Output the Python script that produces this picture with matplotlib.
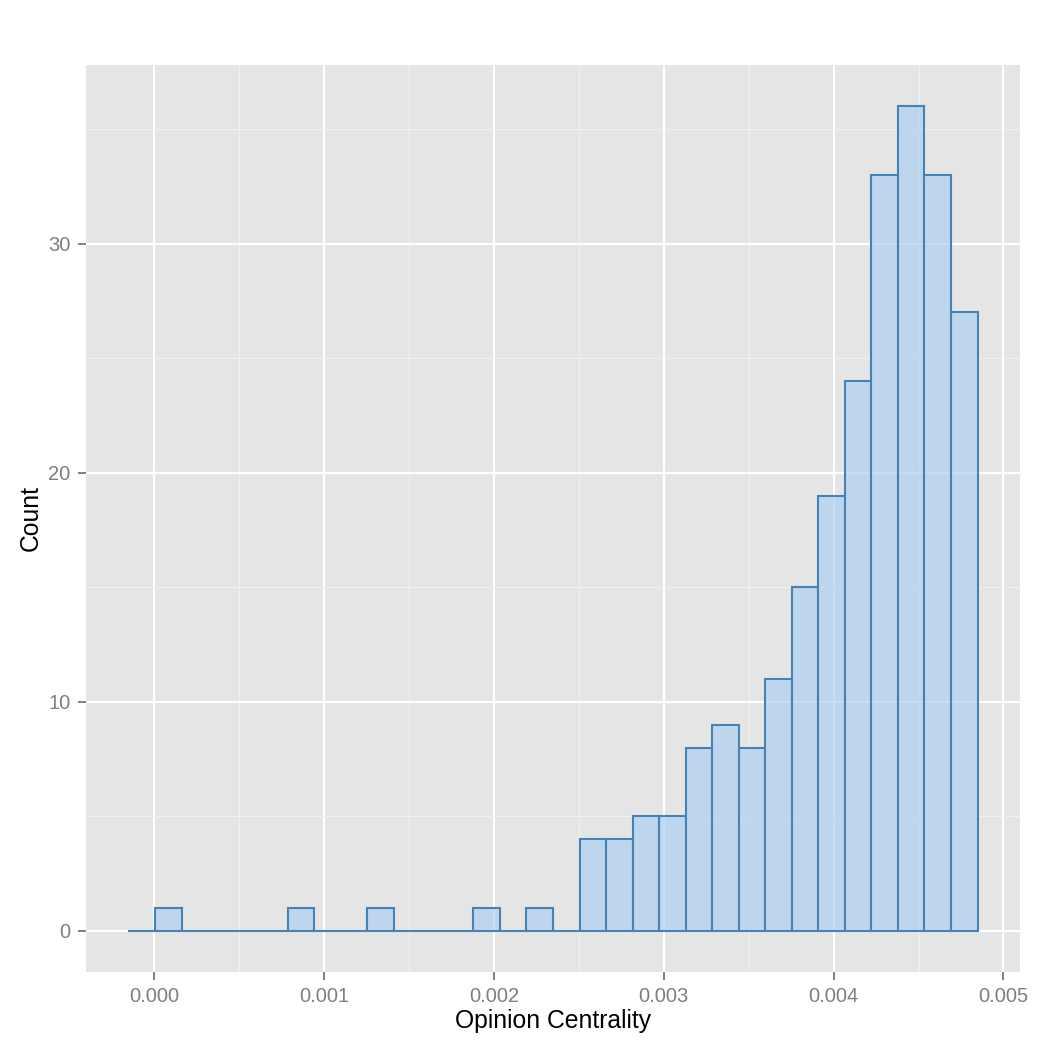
import numpy as np
from matplotlib import pyplot as plt
from matplotlib.ticker import MultipleLocator

# histogram bins (32 bins of width 0.005/32)
bin_start = -0.000153
bin_width = 0.005 / 32
counts = [0, 1, 0, 0, 0, 0, 1, 0, 0, 1, 0, 0, 0, 1, 0, 1,
          0, 4, 4, 5, 5, 8, 9, 8, 11, 15, 19, 24, 33, 36, 33, 27]

x_ticks = [0.000, 0.001, 0.002, 0.003, 0.004, 0.005]
x_tick_labels = ["0.000", "0.001", "0.002", "0.003", "0.004", "0.005"]
y_ticks = [0, 10, 20, 30]


def main():
    plt.rcParams["font.family"] = ["Liberation Sans", "DejaVu Sans"]

    figure = plt.figure(figsize=(10.5, 10.5), dpi=100)
    axis = figure.add_axes([0.0819, 0.0743, 0.8895, 0.8638])
    axis.set_facecolor("#E5E5E5")

    lefts = bin_start + bin_width * np.arange(len(counts))
    axis.bar(
        lefts,
        counts,
        width=bin_width,
        align="edge",
        facecolor=(0.68, 0.82, 0.95, 0.7),
        edgecolor="#4682B4",
        linewidth=1.5,
        zorder=3
    )

    x_low = bin_start - 0.00025
    x_high = bin_start + bin_width * len(counts) + 0.00025
    axis.set_xlim(x_low, x_high)
    axis.set_ylim(-1.8, 37.8)

    axis.set_xticks(x_ticks)
    axis.set_xticklabels(x_tick_labels)
    axis.set_yticks(y_ticks)
    axis.xaxis.set_minor_locator(MultipleLocator(0.0005))
    axis.yaxis.set_minor_locator(MultipleLocator(5))

    axis.grid(True, which="major", color="white", linewidth=1.6, zorder=1)
    axis.grid(True, which="minor", color="#F2F2F2", linewidth=0.7, zorder=1)
    axis.set_axisbelow(True)

    for spine in axis.spines.values():
        spine.set_visible(False)

    axis.tick_params(which="major", length=6, width=1.4, color="#7F7F7F",
                     labelcolor="#7F7F7F", labelsize=14.5, pad=5)
    axis.tick_params(which="minor", length=0)

    axis.set_xlabel("Opinion Centrality", fontsize=17.8, labelpad=2)
    axis.set_ylabel("Count", fontsize=17.8, labelpad=4)

    figure.savefig("out.png", dpi=100)


main()
